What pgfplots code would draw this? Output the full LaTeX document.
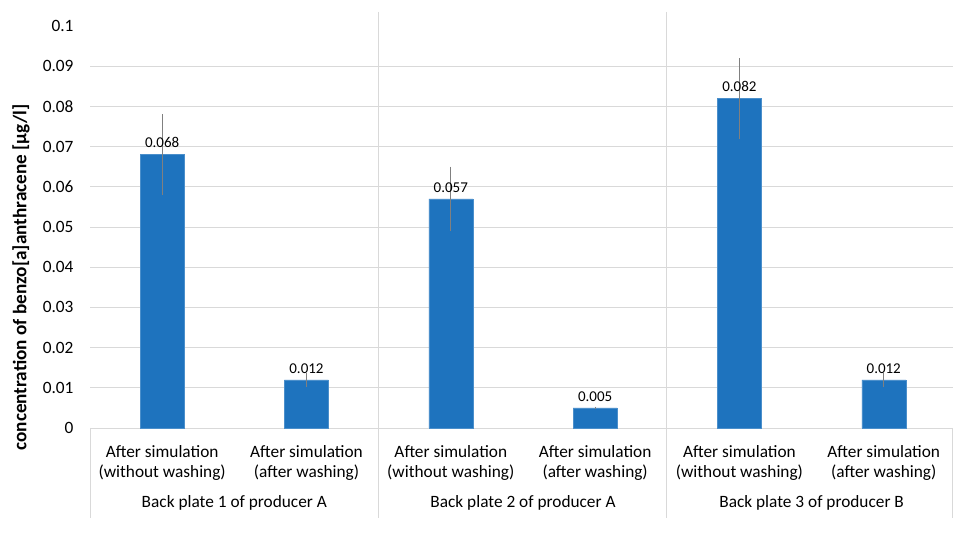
\documentclass[border=0pt]{standalone}
\usepackage{pgfplots}
\pgfplotsset{compat=1.18}
\usepackage{fontspec}
\setmainfont{Carlito}
\definecolor{barblue}{RGB}{30,115,190}
\definecolor{gridgray}{RGB}{217,217,217}
\definecolor{errgray}{RGB}{128,128,128}
\begin{document}
\begin{tikzpicture}[x=1bp,y=1bp]
\useasboundingbox (0,0) rectangle (953,538);
\begin{axis}[
  at={(90bp,110bp)}, anchor=south west,
  scale only axis, width=863bp, height=402bp,
  xmin=-0.5, xmax=5.48, ymin=0, ymax=0.1,
  ybar, bar width=44bp,
  axis line style={draw=none},
  major tick length=0pt,
  /pgf/number format/assume math mode=true,
  ytick={0,0.01,...,0.09},
  extra y ticks={0.1},
  extra y tick style={grid=none},
  ymajorgrids, grid style={gridgray, line width=0.8bp},
  yticklabel style={font=\fontsize{17.3bp}{20bp}\selectfont, xshift=-13bp},
  yticklabel={\pgfmathprintnumber[fixed,precision=2]{\tick}},
  xtick={0,1,2,3,4,5},
  xticklabels={{After simulation\\(without washing)},{After simulation\\(after washing)},
               {After simulation\\(without washing)},{After simulation\\(after washing)},
               {After simulation\\(without washing)},{After simulation\\(after washing)}},
  xticklabel style={align=center, font=\fontsize{17.3bp}{19.5bp}\selectfont, yshift=-14bp},
  nodes near coords={\pgfmathprintnumber[fixed,precision=3]{\pgfplotspointmeta}},
  nodes near coords style={font=\fontsize{15bp}{17bp}\selectfont, yshift=3bp},
  clip=false,
]
\addplot[fill=barblue, draw=barblue!80!white, line width=0.5bp,
  error bars/.cd, y dir=both, y explicit, error mark=none,
  error bar style={errgray, line width=0.9bp}]
  coordinates {
    (0,0.068) +- (0,0.010)
    (1,0.012) +- (0,0.0018)
    (2,0.057) +- (0,0.008)
    (3,0.005) +- (0,0.0003)
    (4,0.082) +- (0,0.010)
    (5,0.012) +- (0,0.0018)
  };
\end{axis}
\draw[gridgray, line width=0.8bp] (378,526) -- (378,20);
\draw[gridgray, line width=0.8bp] (666.5,526) -- (666.5,20);
\draw[gridgray, line width=0.8bp] (90,110) -- (90,20);
\draw[gridgray, line width=0.8bp] (952.5,110) -- (952.5,20);
\node[font=\fontsize{17.3bp}{20bp}\selectfont] at (234.3,35) {Back plate 1 of producer A};
\node[font=\fontsize{17.3bp}{20bp}\selectfont] at (523,35) {Back plate 2 of producer A};
\node[font=\fontsize{17.3bp}{20bp}\selectfont] at (811.6,35) {Back plate 3 of producer B};
\node[rotate=90, font=\bfseries\fontsize{19.2bp}{22bp}\selectfont] at (21,260.5) {concentration of benzo[a]anthracene [µg/l]};
\end{tikzpicture}
\end{document}
